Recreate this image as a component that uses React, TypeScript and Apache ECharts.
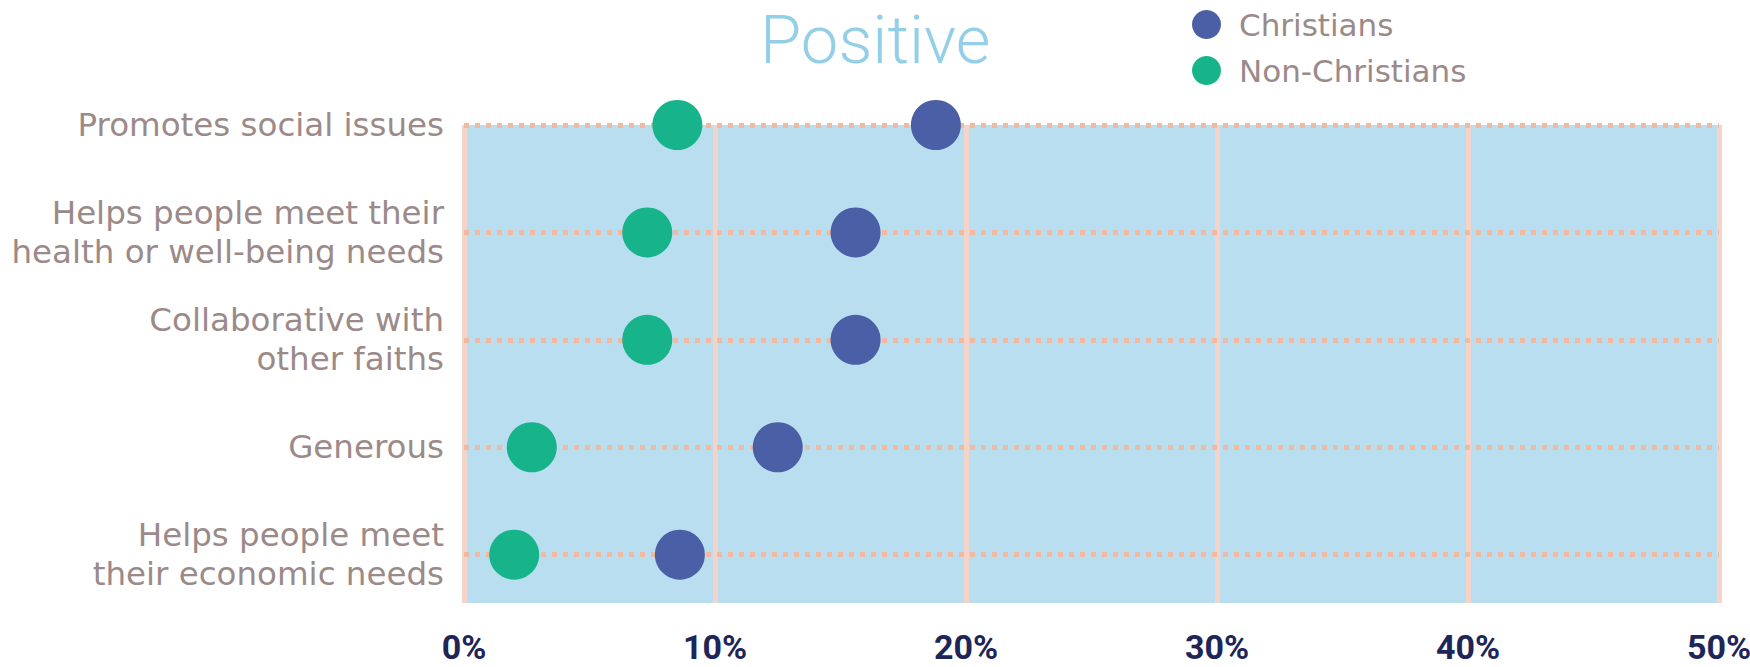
import React, { useEffect, useRef } from "react";
import * as echarts from "echarts";

const title = "Positive";
const categories = [
  "Promotes social issues",
  "Helps people meet their\nhealth or well-being needs",
  "Collaborative with\nother faiths",
  "Generous",
  "Helps people meet\ntheir economic needs",
];
const christians = [18.8, 15.6, 15.6, 12.5, 8.6];
const nonChristians = [8.5, 7.3, 7.3, 2.7, 2.0];
const seriesNames = ["Christians", "Non-Christians"];
const xMin = 0;
const xMax = 50;
const xInterval = 10;

const LABEL_FONT = "'DejaVu Sans', 'Noto Sans', sans-serif";
const LABEL_COLOR = "#9b8a88";

export default function App() {
  const ref = useRef<HTMLDivElement>(null);
  useEffect(() => {
    document.body.style.margin = "0";
    const chart = echarts.init(ref.current!, undefined, { renderer: "svg" });
    chart.setOption({
      animation: false,
      backgroundColor: "#ffffff",
      title: {
        text: title,
        left: 760,
        top: 7,
        padding: 0,
        textStyle: {
          fontFamily: "Roboto, sans-serif",
          fontWeight: 300,
          fontSize: 67,
          lineHeight: 66,
          color: "#94cfe8",
        },
      },
      legend: {
        data: seriesNames,
        orient: "vertical",
        left: 1187,
        top: 4,
        icon: "circle",
        itemWidth: 29,
        itemHeight: 29,
        itemGap: 15,
        textStyle: {
          fontFamily: LABEL_FONT,
          fontSize: 31,
          color: LABEL_COLOR,
          padding: [0, 0, 0, 13],
        },
      },
      grid: {
        left: 464,
        right: 31,
        top: 125,
        bottom: 64,
        outerBoundsMode: "none",
        show: true,
        backgroundColor: "#b9def0",
        borderWidth: 0,
      },
      xAxis: {
        type: "value",
        min: xMin,
        max: xMax,
        interval: xInterval,
        axisLine: { show: false },
        axisTick: { show: false },
        splitLine: {
          show: true,
          lineStyle: { color: "#f4d3c9", width: 5 },
        },
        axisLabel: {
          formatter: "{value}%",
          fontFamily: "Roboto, sans-serif",
          fontWeight: "bold",
          fontSize: 34,
          color: "#1e2558",
          margin: 27,
        },
      },
      yAxis: {
        type: "value",
        inverse: true,
        min: 0,
        max: 4.45,
        interval: 1,
        axisLine: { show: false },
        axisTick: { show: false },
        splitLine: { show: false },
        axisLabel: {
          formatter: (v: number) =>
            Number.isInteger(v) && categories[v] !== undefined ? categories[v] : "",
          fontFamily: LABEL_FONT,
          fontSize: 32.5,
          lineHeight: 39,
          color: LABEL_COLOR,
          align: "right",
          margin: 20,
        },
      },
      series: [
        {
          type: "line",
          name: "rows",
          data: [],
          z: 1,
          silent: true,
          markLine: {
            z: 1,
            silent: true,
            symbol: "none",
            label: { show: false },
            lineStyle: { color: "#f0b9a2", width: 5, type: [5, 6] },
            data: categories.map((_, i) => ({ yAxis: i })),
          },
        },
        {
          type: "scatter",
          name: seriesNames[0],
          symbolSize: 50,
          z: 3,
          itemStyle: { color: "#4a5fa5", opacity: 1 },
          data: christians.map((v, i) => [v, i]),
        },
        {
          type: "scatter",
          name: seriesNames[1],
          symbolSize: 50,
          z: 3,
          itemStyle: { color: "#17b38a", opacity: 1 },
          data: nonChristians.map((v, i) => [v, i]),
        },
      ],
    });
    return () => chart.dispose();
  }, []);
  return <div ref={ref} style={{ width: 1750, height: 667 }} />;
}
